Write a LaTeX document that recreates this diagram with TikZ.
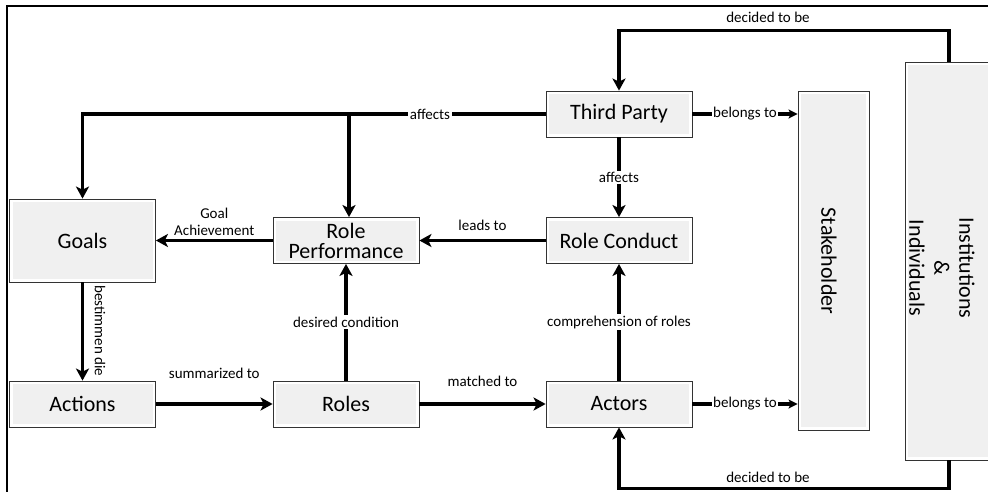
\documentclass[tikz,border=0pt]{standalone}
\usepackage{fontspec}
\setmainfont{Carlito}
\usetikzlibrary{arrows.meta}
\begin{document}
\begin{tikzpicture}[x=1pt,y=-1pt,
  box/.style={draw=black!80, line width=0.8pt, fill=white, inner sep=0pt,
    align=center, font=\fontsize{22}{22}\selectfont,
    path picture={\fill[black!6]
      ([shift={(3pt,3pt)}]path picture bounding box.south west) rectangle
      ([shift={(-3pt,-3pt)}]path picture bounding box.north east);}},
  conbox/.style={box, minimum width=146pt, minimum height=46pt},
  arr/.style={line width=3.4pt, line join=miter,
    -{Stealth[length=12pt,width=13pt,inset=3pt]}},
  arrs/.style={line width=3.4pt, -{Stealth[length=9pt,width=9pt,inset=2pt]}},
  lab/.style={font=\fontsize{15}{17}\selectfont, inner sep=1.5pt, align=center},
  onlab/.style={lab, fill=white},
  biglab/.style={font=\fontsize{22}{25}\selectfont, align=center, rotate=-90}
]
\useasboundingbox (0,0) rectangle (988,492);

% outer frame
\draw[line width=2pt] (7,500) -- (7,6) -- (1000,6);

% concept boxes
\node[conbox, minimum height=83pt] (goals) at (82.5,240.5) {Goals};
\node[conbox] (rp) at (346,240.5) {Role\\[-2pt]Performance};
\node[conbox] (tp) at (619,114) {Third Party};
\node[conbox] (rc) at (619,240.5) {Role Conduct};
\node[conbox] (act) at (82.5,404) {Actions};
\node[conbox] (rl) at (346,404) {Roles};
\node[conbox] (ac) at (619,404) {Actors};

% stakeholder and institutions columns
\node[box, minimum width=71pt, minimum height=339pt] (sh) at (833.5,260.5) {};
\node[biglab] (shlabel) at (829,261) {Stakeholder};
\node[box, minimum width=88pt, minimum height=398pt] (inst) at (949,261) {};
\node[biglab] (instlabel) at (942,268) {Institutions\\\&\\Individuals};

% third party affects goals and role performance
\coordinate (br) at (349,114);
\draw[arr] (tp.west) -| (goals.north);
\draw[arr] (br) -- (br |- rp.north);
\node[onlab] (aff1) at (430,114) {affects};

% third party relations
\draw[arr] (tp) -- node[onlab] {affects} (rc);
\draw[arrs] (tp.east) -- node[onlab] {belongs to} (sh.west |- tp.east);
\draw[arrs] (ac.east) -- node[onlab] {belongs to} (sh.west |- ac.east);

% main chain
\draw[arr] (rc) -- node[lab, above=7pt] {leads to} (rp);
\draw[arr] (rp) -- node[lab, above=2pt] {Goal\\Achievement} (goals);
\draw[arr] (goals) -- (act);
\node[lab, rotate=-90] (best) at (100,331) {bestimmen die};
\draw[arr] (act) -- node[lab, above=22pt] {summarized to} (rl);
\draw[arr] (rl) -- node[lab, above=14pt] {matched to} (ac);
\draw[arr] (rl) -- node[onlab] {desired condition} (rp);
\draw[arr] (ac) -- node[onlab] {comprehension of roles} (rc);

% institutions decide
\draw[arr] (inst.north) -- ++(0,-31) -| (tp.north);
\node[lab] (dec1) at (768,17) {decided to be};
\draw[arr] (inst.south) -- ++(0,28) -| (ac.south);
\node[lab] (dec2) at (768,477) {decided to be};
\end{tikzpicture}
\end{document}
